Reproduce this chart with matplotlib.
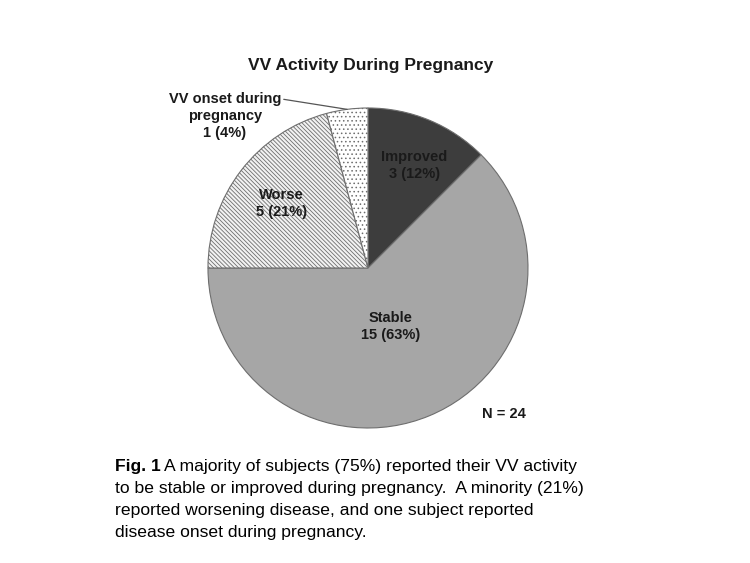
import numpy as np
import matplotlib
matplotlib.use("Agg")
import matplotlib.pyplot as plt

plt.rcParams['font.family'] = ['Liberation Sans', 'DejaVu Sans']

# data
categories = ["Improved", "Stable", "Worse", "VV onset during\npregnancy"]
counts = [3, 15, 5, 1]
pct_labels = ["12%", "63%", "21%", "4%"]
n_total = 24

colors = ["#3d3d3d", "#a6a6a6", "#f2f2f2", "#ffffff"]
hatches = [None, None, "\\\\\\\\\\\\\\\\", "...."]

fig = plt.figure(figsize=(7.5, 5.63), dpi=100)
ax = fig.add_axes([0.2773, 0.2398, 0.4267, 0.5684])

plt.rcParams['hatch.color'] = '#c2c2c2'
plt.rcParams['hatch.linewidth'] = 0.6
wedges, _ = ax.pie(counts, colors=colors, startangle=90, counterclock=False,
                   wedgeprops=dict(edgecolor='#6e6e6e', linewidth=0.8))
for w, h in zip(wedges, hatches):
    if h:
        w.set_hatch(h)
ax.set_xlim(-1, 1)
ax.set_ylim(-1, 1)
ax.set_aspect('equal')

# slice labels (positions in radius units)
label_pos = [(0.29, 0.64), (0.14, -0.365), (-0.54, 0.405)]
for i, (x, y) in enumerate(label_pos):
    ax.text(x, y, f"{categories[i]}\n{counts[i]} ({pct_labels[i]})",
            ha='center', va='center', fontsize=10.5, fontweight='bold',
            color='#1a1a1a', linespacing=1.25)

# onset label with leader line to the edge of its slice
w = wedges[3]
mid = np.deg2rad((w.theta1 + w.theta2) / 2)
ax.annotate(f"{categories[3]}\n{counts[3]} ({pct_labels[3]})",
            xy=(np.cos(mid), np.sin(mid)), xytext=(-0.895, 0.95),
            ha='center', va='center', fontsize=10.5, fontweight='bold',
            color='#1a1a1a', linespacing=1.25, annotation_clip=False,
            arrowprops=dict(arrowstyle='-', color='#555555', lw=0.9,
                            shrinkA=0, shrinkB=0,
                            relpos=(1.0, 0.86)))

ax.text(0.85, -0.91, f"N = {n_total}", ha='center', va='center',
        fontsize=10.5, fontweight='bold', color='#1a1a1a')

fig.text(0.494, 0.884, "VV Activity During Pregnancy", ha='center', va='center',
         fontsize=12.5, fontweight='bold', color='#1a1a1a')

caption_lines = [
    "A majority of subjects (75%) reported their VV activity",
    "to be stable or improved during pregnancy.  A minority (21%)",
    "reported worsening disease, and one subject reported",
    "disease onset during pregnancy.",
]
cx = 0.153
y0, step = 467, 21.8
t = fig.text(cx, 1 - y0 / 563, "Fig. 1", fontsize=12.6, fontweight='bold',
             ha='left', va='center', color='black')
fig.canvas.draw()
bb = t.get_window_extent()
x2 = (bb.x1 + 4) / fig.bbox.width
fig.text(x2, 1 - y0 / 563, caption_lines[0], fontsize=12.6, ha='left',
         va='center', color='black')
for i, line in enumerate(caption_lines[1:], start=1):
    fig.text(cx, 1 - (y0 + step * i) / 563, line, fontsize=12.6, ha='left',
             va='center', color='black')

fig.savefig("out.png", dpi=100)
